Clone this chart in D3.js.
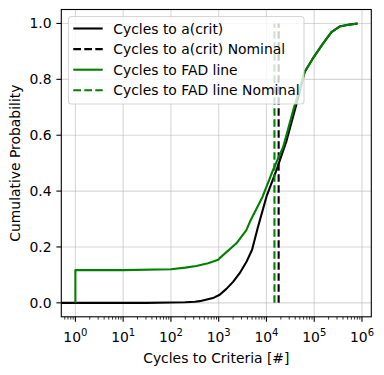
<!DOCTYPE html>
<html>
<head>
<meta charset="utf-8">
<script src="https://cdn.jsdelivr.net/npm/d3@7"></script>
<style>
  html, body { margin: 0; padding: 0; background: #fff; }
  svg { display: block; font-family: "DejaVu Sans", sans-serif; }
</style>
</head>
<body>
<div id="chart"></div>
<script>
const critCycles = [0.1, 1, 30, 100, 200, 320, 400, 760, 1050, 1450, 2000, 2750, 3900, 5000, 6600, 10000, 16200, 26300, 42700, 63000, 93000, 151000, 229000, 339000, 550000, 810000];
const critProb   = [0, 0, 0, 0.001, 0.002, 0.004, 0.006, 0.017, 0.029, 0.05, 0.075, 0.106, 0.15, 0.19, 0.27, 0.38, 0.475, 0.58, 0.713, 0.826, 0.874, 0.927, 0.969, 0.989, 0.996, 1.0];
const fadCycles  = [1, 1, 10, 100, 200, 340, 600, 980, 1050, 2350, 3800, 4500, 8300, 14100, 22400, 36300, 63000, 93000, 151000, 229000, 339000, 550000, 810000];
const fadProb    = [0, 0.117, 0.117, 0.12, 0.126, 0.132, 0.142, 0.154, 0.16, 0.213, 0.26, 0.29, 0.38, 0.48, 0.558, 0.689, 0.826, 0.874, 0.927, 0.969, 0.989, 0.996, 1.0];
const nominalCrit = 18000;
const nominalFad = 14700;
const seriesNames = ['Cycles to a(crit)', 'Cycles to a(crit) Nominal', 'Cycles to FAD line', 'Cycles to FAD line Nominal'];
const yTicks = [0, 0.2, 0.4, 0.6, 0.8, 1.0];
const xTickExps = [0, 1, 2, 3, 4, 5, 6];

const W = 384, H = 375;
const L = 61.3, R = 371.3, T = 9.5, B = 316.8;
const FS = 13.9;
const GREEN = '#008000';

const svg = d3.select('#chart').append('svg').attr('width', W).attr('height', H);

const x = d3.scaleLog().domain([Math.pow(10, -0.295), Math.pow(10, 6.195)]).range([L, R]);
const y = d3.scaleLinear().domain([-0.05, 1.05]).range([B, T]);

svg.append('defs').append('clipPath').attr('id', 'plotClip')
  .append('rect').attr('x', L).attr('y', T).attr('width', R - L).attr('height', B - T);

// grid
const grid = svg.append('g').attr('stroke', '#b0b0b0').attr('stroke-opacity', 0.5).attr('stroke-width', 1.1);
grid.selectAll('line.gx').data(xTickExps).join('line').attr('class', 'gx')
  .attr('x1', d => x(Math.pow(10, d))).attr('x2', d => x(Math.pow(10, d))).attr('y1', T).attr('y2', B);
grid.selectAll('line.gy').data(yTicks).join('line').attr('class', 'gy')
  .attr('y1', d => y(d)).attr('y2', d => y(d)).attr('x1', L).attr('x2', R);

const plot = svg.append('g').attr('clip-path', 'url(#plotClip)');
const line = d3.line().x(d => x(d[0])).y(d => y(d[1]));

plot.append('path').datum(critCycles.map((c, i) => [c, critProb[i]]))
  .attr('d', line).attr('fill', 'none').attr('stroke', '#000').attr('stroke-width', 2.1).attr('stroke-linejoin', 'round');
plot.append('line').attr('x1', x(nominalCrit)).attr('x2', x(nominalCrit)).attr('y1', y(0)).attr('y2', y(1))
  .attr('stroke', '#000').attr('stroke-width', 2.1).attr('stroke-dasharray', '7.7,3.3');
plot.append('path').datum(fadCycles.map((c, i) => [c, fadProb[i]]))
  .attr('d', line).attr('fill', 'none').attr('stroke', GREEN).attr('stroke-width', 2.1).attr('stroke-linejoin', 'round');
plot.append('line').attr('x1', x(nominalFad)).attr('x2', x(nominalFad)).attr('y1', y(0)).attr('y2', y(1))
  .attr('stroke', GREEN).attr('stroke-width', 2.1).attr('stroke-dasharray', '7.7,3.3');

// axes
const xMinor = [];
for (let e = -1; e <= 6; e++) for (let m = 2; m <= 9; m++) {
  const v = m * Math.pow(10, e);
  if (x(v) >= L && x(v) <= R) xMinor.push(v);
}
const xAxis = svg.append('g').attr('transform', `translate(0,${B})`);
xAxis.selectAll('line.minor').data(xMinor).join('line').attr('class', 'minor')
  .attr('x1', d => x(d)).attr('x2', d => x(d)).attr('y1', 0).attr('y2', 2.8).attr('stroke', '#000').attr('stroke-width', 0.8);
xAxis.selectAll('line.major').data(xTickExps).join('line').attr('class', 'major')
  .attr('x1', d => x(Math.pow(10, d))).attr('x2', d => x(Math.pow(10, d))).attr('y1', 0).attr('y2', 4.9).attr('stroke', '#000').attr('stroke-width', 1.1);
const xl = xAxis.selectAll('text').data(xTickExps).join('text')
  .attr('x', d => x(Math.pow(10, d))).attr('y', 25).attr('text-anchor', 'middle').attr('font-size', FS).attr('fill', '#000');
xl.append('tspan').text('10');
xl.append('tspan').attr('dy', -5.5).attr('font-size', FS * 0.72).text(d => d);

const yAxis = svg.append('g').attr('transform', `translate(${L},0)`);
yAxis.selectAll('line').data(yTicks).join('line')
  .attr('x1', -4.9).attr('x2', 0).attr('y1', d => y(d)).attr('y2', d => y(d)).attr('stroke', '#000').attr('stroke-width', 1.1);
yAxis.selectAll('text').data(yTicks).join('text')
  .attr('x', -9.8).attr('y', d => y(d)).attr('dy', '0.36em').attr('text-anchor', 'end').attr('font-size', FS).attr('fill', '#000')
  .text(d => d.toFixed(1));

svg.append('rect').attr('x', L).attr('y', T).attr('width', R - L).attr('height', B - T)
  .attr('fill', 'none').attr('stroke', '#000').attr('stroke-width', 1.1);

svg.append('text').attr('x', (L + R) / 2).attr('y', 363).attr('text-anchor', 'middle').attr('font-size', FS).text('Cycles to Criteria [#]');
svg.append('text').attr('transform', `translate(20,${(T + B) / 2}) rotate(-90)`).attr('text-anchor', 'middle').attr('font-size', FS).text('Cumulative Probability');

// legend
const legend = svg.append('g');
legend.append('rect').attr('x', 68.5).attr('y', 16.5).attr('width', 235.5).attr('height', 87.5).attr('rx', 3)
  .attr('fill', '#fff').attr('fill-opacity', 0.8).attr('stroke', '#cccccc').attr('stroke-opacity', 0.8).attr('stroke-width', 1.1);
const legendColors = ['#000', '#000', GREEN, GREEN];
const legendDash = [null, '7.7,3.3', null, '7.7,3.3'];
const rows = legend.selectAll('g.row').data(seriesNames).join('g').attr('class', 'row')
  .attr('transform', (d, i) => `translate(0,${28.5 + i * 20.6})`);
rows.append('line').attr('x1', 73.3).attr('x2', 102.7).attr('y1', 0).attr('y2', 0)
  .attr('stroke', (d, i) => legendColors[i]).attr('stroke-width', 2.1).attr('stroke-dasharray', (d, i) => legendDash[i]);
rows.append('text').attr('x', 113.3).attr('y', 0).attr('dy', '0.36em').attr('font-size', FS).text(d => d);
</script>
</body>
</html>
